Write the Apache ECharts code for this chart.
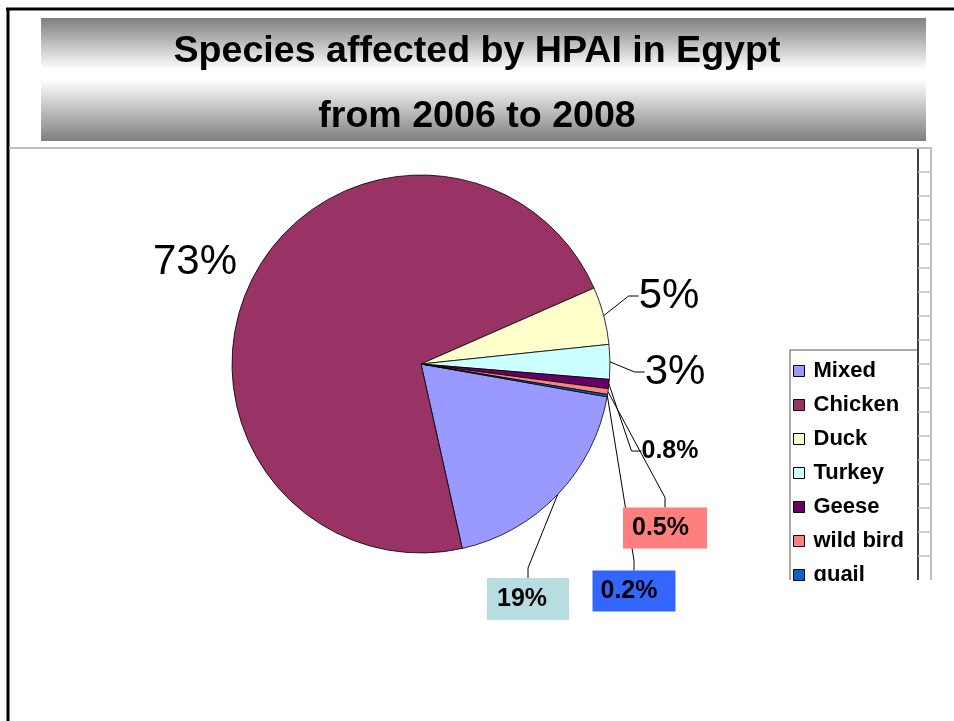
<!DOCTYPE html>
<html>
<head>
<meta charset="utf-8">
<script src="https://cdn.jsdelivr.net/npm/echarts@6/dist/echarts.min.js"></script>
<style>html,body{margin:0;padding:0;background:#fff;}#c{width:954px;height:721px;}</style>
</head>
<body>
<div id="c"></div>
<script>
// ---- data ----
const titleText = 'Species affected by HPAI in Egypt\nfrom 2006 to 2008';
const categories = ['Mixed', 'Chicken', 'Duck', 'Turkey', 'Geese', 'wild bird', 'quail'];
const values = [19, 73, 5, 3, 0.8, 0.5, 0.2];
// ---- styles ----
const colors = ['#9999ff', '#993366', '#ffffcc', '#ccffff', '#660066', '#ff8080', '#0066cc'];
const FONT = 'Liberation Sans, Arial, sans-serif';
const bigLabel = {fontSize: 42, fontWeight: 'normal'};
const boldLabel = {fontSize: 25, fontWeight: 'bold'};
const labelStyles = [
  Object.assign({backgroundColor: '#b7dde0', padding: [9, 22, 8, 10]}, boldLabel),
  bigLabel,
  bigLabel,
  bigLabel,
  boldLabel,
  Object.assign({backgroundColor: '#ff7f7f', padding: [8, 18, 8, 9]}, boldLabel),
  Object.assign({backgroundColor: '#3366ff', padding: [8, 18, 8, 8]}, boldLabel)
];
const labelCenters = [[528, 599], [195, 262], [669, 296], [675, 372], [670, 451], [665, 528], [634, 591]];

const chart = echarts.init(document.getElementById('c'), null, {renderer: 'canvas'});

const data = categories.map((name, i) => ({
  name: name,
  value: values[i],
  itemStyle: {color: colors[i]},
  label: labelStyles[i],
  labelLine: {show: i !== 1}
}));

// decorations
const graphics = [
  {type: 'rect', shape: {x: 41, y: 18, width: 885, height: 123},
   style: {fill: new echarts.graphic.LinearGradient(0, 0, 0, 1, [
     {offset: 0, color: '#7f7f7f'}, {offset: 0.42, color: '#ffffff'},
     {offset: 0.5, color: '#ffffff'}, {offset: 1, color: '#7f7f7f'}])}},
  {type: 'line', shape: {x1: 6, y1: 9, x2: 954, y2: 9}, style: {stroke: '#000', lineWidth: 3}},
  {type: 'line', shape: {x1: 8, y1: 8, x2: 8, y2: 721}, style: {stroke: '#000', lineWidth: 3}},
  {type: 'line', shape: {x1: 9, y1: 148, x2: 932, y2: 148}, style: {stroke: '#c0c0c0', lineWidth: 2}},
  {type: 'line', shape: {x1: 931, y1: 148, x2: 931, y2: 580}, style: {stroke: '#c0c0c0', lineWidth: 2}},
  {type: 'line', shape: {x1: 918, y1: 149, x2: 918, y2: 580}, style: {stroke: '#000', lineWidth: 1.5}},
  {type: 'line', shape: {x1: 790, y1: 350, x2: 918, y2: 350}, style: {stroke: '#555', lineWidth: 1}},
  {type: 'line', shape: {x1: 790, y1: 350, x2: 790, y2: 580}, style: {stroke: '#555', lineWidth: 1}},
  {type: 'rect', z: 100, shape: {x: 780, y: 581, width: 160, height: 140}, style: {fill: '#fff'}}
];
for (let y = 172; y < 580; y += 24) {
  graphics.push({type: 'line', shape: {x1: 918, y1: y, x2: 931, y2: y}, style: {stroke: '#c0c0c0', lineWidth: 1.5}});
}

chart.setOption({
  animation: false,
  backgroundColor: '#fff',
  title: {
    text: titleText,
    left: 'center',
    top: 19,
    padding: [0, 0, 0, 24],
    textStyle: {fontFamily: FONT, fontWeight: 'bold', fontSize: 37.6, color: '#000', lineHeight: 65}
  },
  graphic: {elements: graphics},
  legend: {
    orient: 'vertical',
    left: 793,
    top: 360,
    padding: 0,
    itemWidth: 11,
    itemHeight: 11,
    itemGap: 12,
    icon: 'rect',
    data: categories,
    itemStyle: {borderColor: '#000', borderWidth: 1},
    textStyle: {fontFamily: FONT, fontWeight: 'bold', fontSize: 22, color: '#000', lineHeight: 22, padding: [0, 0, 0, 4]}
  },
  series: [{
    type: 'pie',
    center: [421, 364],
    radius: 189,
    startAngle: -10,
    clockwise: true,
    avoidLabelOverlap: false,
    itemStyle: {borderColor: '#000', borderWidth: 0.8},
    label: {show: true, position: 'outside', formatter: '{c}%', color: '#000', fontFamily: FONT},
    labelLine: {show: true, length: 10, length2: 10, lineStyle: {color: '#000', width: 1}},
    labelLayout: function (params) {
      const p = labelCenters[params.dataIndex];
      return {x: p[0], y: p[1], align: 'center', verticalAlign: 'middle'};
    },
    emphasis: {disabled: true},
    data: data
  }]
});
</script>
</body>
</html>
